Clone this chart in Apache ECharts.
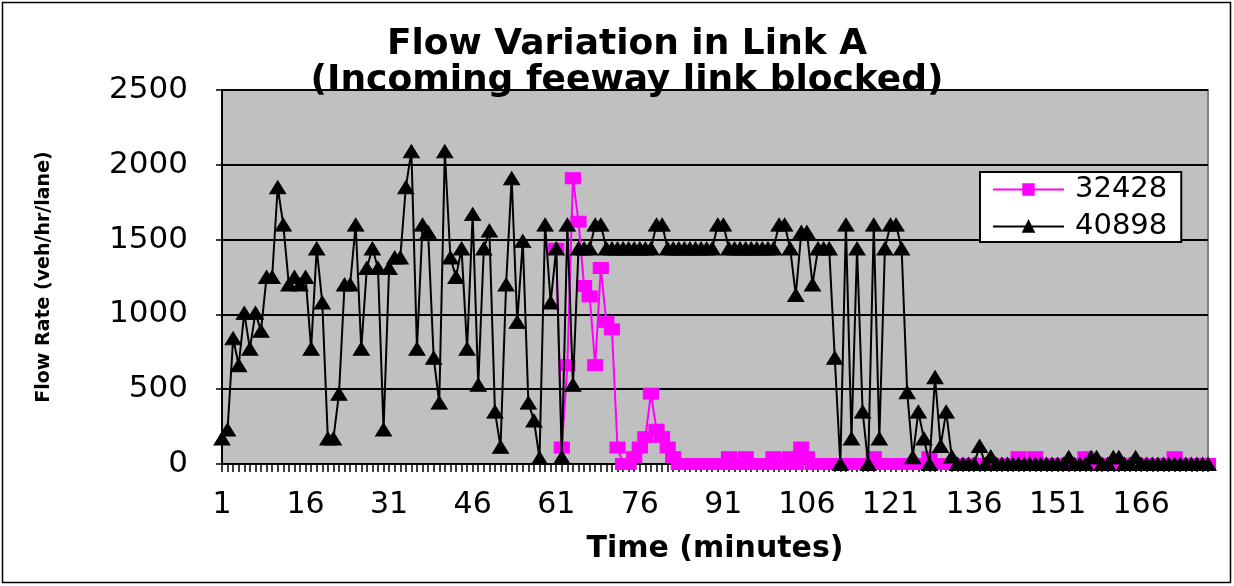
<!DOCTYPE html>
<html>
<head>
<meta charset="utf-8">
<script src="https://cdn.jsdelivr.net/npm/echarts@6/dist/echarts.min.js"></script>
<style>
  html, body { margin: 0; padding: 0; background: #ffffff; }
  #chart { width: 1234px; height: 586px; }
</style>
</head>
<body>
<div id="chart"></div>
<script>
// Time axis: one category per minute
const minuteCount = 178;
const minutes = [];
for (let m = 1; m <= minuteCount; m++) minutes.push(String(m));

// Detector 32428 flow rate (veh/hr/lane); no data before minute 61
const flow32428 = [
  null, null, null, null, null, null, null, null, null, null,
  null, null, null, null, null, null, null, null, null, null,
  null, null, null, null, null, null, null, null, null, null,
  null, null, null, null, null, null, null, null, null, null,
  null, null, null, null, null, null, null, null, null, null,
  null, null, null, null, null, null, null, null, null, null,
  1440, 110, 660, 1910, 1620, 1190, 1120, 660, 1310, 950,
  900, 110, 0, 0, 45, 110, 180, 470, 230, 180,
  110, 45, 0, 0, 0, 0, 0, 0, 0, 0,
  0, 45, 0, 0, 45, 0, 0, 0, 0, 45,
  0, 0, 45, 0, 110, 45, 0, 0, 0, 0,
  0, 0, 0, 0, 0, 0, 0, 45, 0, 0,
  0, 0, 0, 0, 0, 0, 0, 45, 0, 0,
  0, 0, 0, 0, 0, 0, 0, 0, 0, 0,
  0, 0, 0, 45, 0, 0, 45, 0, 0, 0,
  0, 0, 0, 0, 0, 45, 0, 0, 0, 0,
  0, 0, 0, 0, 0, 0, 0, 0, 0, 0,
  0, 45, 0, 0, 0, 0, 0, 0
];

// Detector 40898 flow rate (veh/hr/lane)
const flow40898 = [
  170, 230, 840, 660, 1010, 770, 1010, 890, 1250, 1250,
  1850, 1600, 1200, 1250, 1200, 1250, 770, 1440, 1080, 170,
  170, 470, 1200, 1200, 1600, 770, 1310, 1440, 1310, 230,
  1310, 1380, 1380, 1850, 2090, 770, 1600, 1550, 710, 410,
  2090, 1380, 1250, 1440, 770, 1670, 530, 1440, 1560, 350,
  115, 1200, 1910, 950, 1490, 410, 290, 40, 1600, 1080,
  1440, 45, 1600, 530, 1440, 1440, 1440, 1600, 1600, 1440,
  1440, 1440, 1440, 1440, 1440, 1440, 1440, 1440, 1600, 1600,
  1440, 1440, 1440, 1440, 1440, 1440, 1440, 1440, 1440, 1600,
  1600, 1440, 1440, 1440, 1440, 1440, 1440, 1440, 1440, 1440,
  1600, 1600, 1440, 1130, 1550, 1550, 1200, 1440, 1440, 1440,
  710, 0, 1600, 170, 1440, 350, 0, 1600, 170, 1440,
  1600, 1600, 1440, 480, 45, 350, 170, 0, 580, 120,
  350, 50, 0, 0, 0, 0, 120, 0, 50, 0,
  0, 0, 0, 0, 0, 0, 0, 0, 0, 0,
  0, 0, 45, 0, 0, 0, 45, 45, 0, 0,
  45, 45, 0, 0, 45, 0, 0, 0, 0, 0,
  0, 0, 0, 0, 0, 0, 0, 0
];

// Value axis ticks
const yTicks = { min: 0, max: 2500, step: 500 };

const seriesNames = ['32428', '40898'];
const fontFamily = 'DejaVu Sans';

const chart = echarts.init(document.getElementById('chart'), null, { renderer: 'canvas' });

chart.setOption({
  animation: false,
  backgroundColor: '#ffffff',
  title: {
    text: 'Flow Variation in Link A\n(Incoming feeway link blocked)',
    left: 622,
    top: 22,
    textAlign: 'center',
    textStyle: {
      fontFamily: fontFamily,
      fontWeight: 'bold',
      fontSize: 36,
      lineHeight: 36,
      color: '#000000'
    }
  },
  grid: {
    left: 222,
    right: 26,
    top: 90,
    bottom: 122,
    show: true,
    backgroundColor: '#c0c0c0',
    borderColor: '#808080',
    borderWidth: 2
  },
  legend: {
    orient: 'vertical',
    left: 980,
    top: 172,
    padding: [3, 14, 1, 12],
    itemGap: 8,
    itemWidth: 71,
    itemHeight: 13,
    backgroundColor: '#ffffff',
    borderColor: '#000000',
    borderWidth: 2,
    borderRadius: 0,
    textStyle: {
      fontFamily: fontFamily,
      fontSize: 29,
      color: '#000000',
      padding: [0, 0, 0, 6]
    },
    data: seriesNames
  },
  xAxis: {
    type: 'category',
    data: minutes,
    boundaryGap: false,
    name: 'Time (minutes)',
    nameLocation: 'middle',
    nameGap: 70,
    nameTextStyle: {
      fontFamily: fontFamily,
      fontWeight: 'bold',
      fontSize: 30,
      color: '#000000'
    },
    axisLine: { lineStyle: { color: '#000000', width: 2 } },
    axisTick: { show: true, interval: 0, length: 8, lineStyle: { color: '#000000', width: 1.5 } },
    axisLabel: {
      interval: 14,
      margin: 26,
      fontFamily: fontFamily,
      fontSize: 30,
      color: '#000000'
    },
    splitLine: { show: false }
  },
  yAxis: {
    type: 'value',
    min: yTicks.min,
    max: yTicks.max,
    interval: yTicks.step,
    name: 'Flow Rate (veh/hr/lane)',
    nameLocation: 'middle',
    nameRotate: 90,
    nameGap: 168,
    nameTextStyle: {
      fontFamily: fontFamily,
      fontWeight: 'bold',
      fontSize: 19,
      color: '#000000'
    },
    axisLine: { show: true, lineStyle: { color: '#000000', width: 2 } },
    axisTick: { show: true, length: 6, lineStyle: { color: '#000000', width: 1.5 } },
    axisLabel: {
      margin: 34,
      fontFamily: fontFamily,
      fontSize: 31,
      color: '#000000',
      formatter: function (v) { return String(v); }
    },
    splitLine: { show: true, lineStyle: { color: '#000000', width: 2 } }
  },
  graphic: [
    {
      type: 'rect',
      shape: { x: 2.5, y: 2.5, width: 1228, height: 580 },
      style: { fill: 'none', stroke: '#000000', lineWidth: 1.5 },
      silent: true
    }
  ],
  series: [
    {
      name: seriesNames[0],
      type: 'line',
      data: flow32428,
      connectNulls: false,
      symbol: 'rect',
      symbolSize: [15, 11],
      showAllSymbol: true,
      lineStyle: { color: '#ff00ff', width: 2 },
      itemStyle: { color: '#ff00ff', borderColor: '#ff00ff', borderWidth: 1 },
      z: 2
    },
    {
      name: seriesNames[1],
      type: 'line',
      data: flow40898,
      symbol: 'triangle',
      symbolSize: [16, 13],
      showAllSymbol: true,
      lineStyle: { color: '#000000', width: 2 },
      itemStyle: { color: '#000000', borderColor: '#000000', borderWidth: 1 },
      z: 3
    }
  ]
});
</script>
</body>
</html>
